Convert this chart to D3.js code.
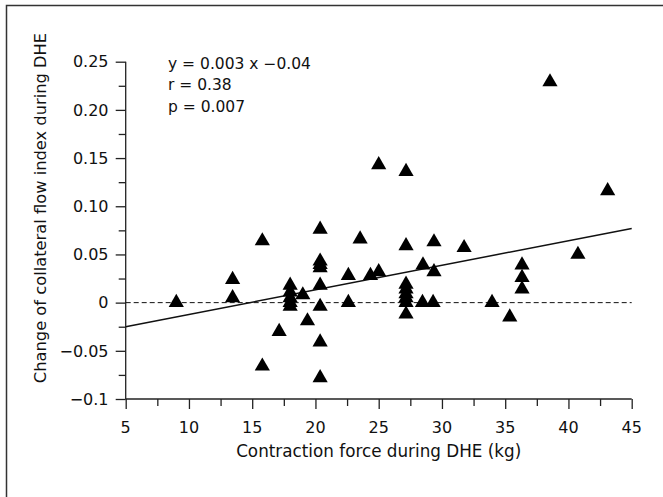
<!DOCTYPE html>
<html><head><meta charset="utf-8">
<script src="https://cdn.jsdelivr.net/npm/d3@7"></script>
<style>html,body{margin:0;padding:0;background:#fff;}svg{display:block;}</style>
</head><body>
<script>
// Data
const forceKg = [9.0, 13.45, 13.45, 15.8, 15.8, 17.13,
  18.0, 18.0, 18.0, 18.0, 18.0, 19.0, 19.37,
  20.37, 20.37, 20.37, 20.37, 20.37, 20.37, 20.37, 20.37,
  22.6, 22.6, 23.53, 24.35, 25.0, 25.0,
  27.16, 27.16, 27.16, 27.16, 27.16, 27.16, 27.16, 27.16,
  28.5, 28.46, 29.37, 29.37, 29.3, 31.75, 33.96, 35.36,
  36.33, 36.33, 36.33, 38.54, 40.75, 43.1];
const flowChange = [0.000, 0.024, 0.005, 0.064, -0.066, -0.030,
  0.018, 0.011, 0.005, 0.000, -0.004, 0.008, -0.019,
  0.076, 0.043, 0.0395, 0.036, 0.018, -0.004, -0.041, -0.078,
  0.028, 0.000, 0.066, 0.028, 0.143, 0.032,
  0.136, 0.059, 0.019, 0.014, 0.009, 0.005, 0.000, -0.012,
  0.039, 0.000, 0.063, 0.032, 0.000, 0.057, 0.000, -0.015,
  0.039, 0.026, 0.014, 0.229, 0.050, 0.116];
const fitX = [5, 45];
const fitY = [-0.025, 0.077];
const xTicks = [5, 7.5, 10, 12.5, 15, 17.5, 20, 22.5, 25, 27.5, 30, 32.5, 35, 37.5, 40, 42.5, 45];
const xTickLabels = ["5", "10", "15", "20", "25", "30", "35", "40", "45"];
const yTicks = [-0.1, -0.075, -0.05, -0.025, 0, 0.025, 0.05, 0.075, 0.1, 0.125, 0.15, 0.175, 0.2, 0.225, 0.25];
const yTickLabels = ["\u22120.1", "\u22120.05", "0", "0.05", "0.10", "0.15", "0.20", "0.25"];
const xTitle = "Contraction force during DHE (kg)";
const yTitle = "Change of collateral flow index during DHE";
const statLines = ["y = 0.003 x \u22120.04", "r = 0.38", "p = 0.007"];

const W = 663, H = 497;
const font = "'DejaVu Sans', sans-serif";
const fs = 16;
const svg = d3.select("body").append("svg").attr("width", W).attr("height", H);

// outer frame (top + left visible)
svg.append("path").attr("d", `M6.5,${H} L6.5,5.5 L${W},5.5`)
  .attr("fill", "none").attr("stroke", "#333").attr("stroke-width", 1.5);

const x = d3.scaleLinear().domain([5, 45]).range([125.7, 631.7]);
const y = d3.scaleLinear().domain([-0.1, 0.25]).range([399, 61.7]);

const axisColor = "#222";
// x axis
const xAxis = d3.axisBottom(x).tickValues(xTicks).tickSize(7).tickFormat("");
const gx = svg.append("g").attr("transform", `translate(0,${y(-0.1)})`).call(xAxis);
gx.selectAll(".tick line").attr("y2", (d, i) => i % 2 === 0 ? 10 : 7);
gx.select(".domain").attr("d", `M${x(5)},0H${x(45)}`);
gx.selectAll("path,line").attr("stroke", axisColor).attr("stroke-width", 1.3);
svg.append("g").selectAll("text").data(xTickLabels).join("text")
  .attr("x", d => x(+d)).attr("y", 433)
  .attr("text-anchor", "middle").attr("font-family", font).attr("font-size", fs)
  .attr("fill", "#111").text(d => d);

// y axis
const yAxis = d3.axisLeft(y).tickValues(yTicks).tickSize(7).tickFormat("");
const gy = svg.append("g").attr("transform", `translate(${x(5)},0)`).call(yAxis);
gy.selectAll(".tick line").attr("x2", (d, i) => i % 2 === 0 ? -10 : -7);
gy.select(".domain").attr("d", `M0,${y(-0.1)}V${y(0.25)}`);
gy.selectAll("path,line").attr("stroke", axisColor).attr("stroke-width", 1.3);
svg.append("g").selectAll("text").data(yTickLabels).join("text")
  .attr("x", 108.5).attr("y", d => y(+d.replace("\u2212", "-")))
  .attr("dy", "0.36em")
  .attr("text-anchor", "end").attr("font-family", font).attr("font-size", fs)
  .attr("fill", "#111").text(d => d);

// axis titles
svg.append("text").attr("x", (x(5) + x(45)) / 2).attr("y", 457)
  .attr("text-anchor", "middle").attr("font-family", font).attr("font-size", 16.8)
  .attr("fill", "#111").text(xTitle);
svg.append("text").attr("transform", `translate(46,208) rotate(-90)`)
  .attr("text-anchor", "middle").attr("font-family", font).attr("font-size", 16.3)
  .attr("fill", "#111").text(yTitle);

// zero dashed line
svg.append("line").attr("x1", x(5)).attr("x2", x(45)).attr("y1", y(0)).attr("y2", y(0))
  .attr("stroke", "#111").attr("stroke-width", 1).attr("stroke-dasharray", "5,3");

// regression line
svg.append("line").attr("x1", x(fitX[0])).attr("y1", y(fitY[0]))
  .attr("x2", x(fitX[1])).attr("y2", y(fitY[1]))
  .attr("stroke", "#111").attr("stroke-width", 1.5);

// points
const tri = d3.symbol().type(d3.symbolTriangle).size(100);
svg.append("g").selectAll("path").data(forceKg.map((f, i) => [f, flowChange[i]])).join("path")
  .attr("d", tri).attr("transform", d => `translate(${x(d[0])},${y(d[1])})`)
  .attr("fill", "#000");

// stats annotation
svg.append("g").selectAll("text").data(statLines).join("text")
  .attr("x", 168).attr("y", (d, i) => 68.5 + i * 21.6)
  .attr("font-family", font).attr("font-size", 15.5).attr("fill", "#111").text(d => d);
</script>
</body></html>
